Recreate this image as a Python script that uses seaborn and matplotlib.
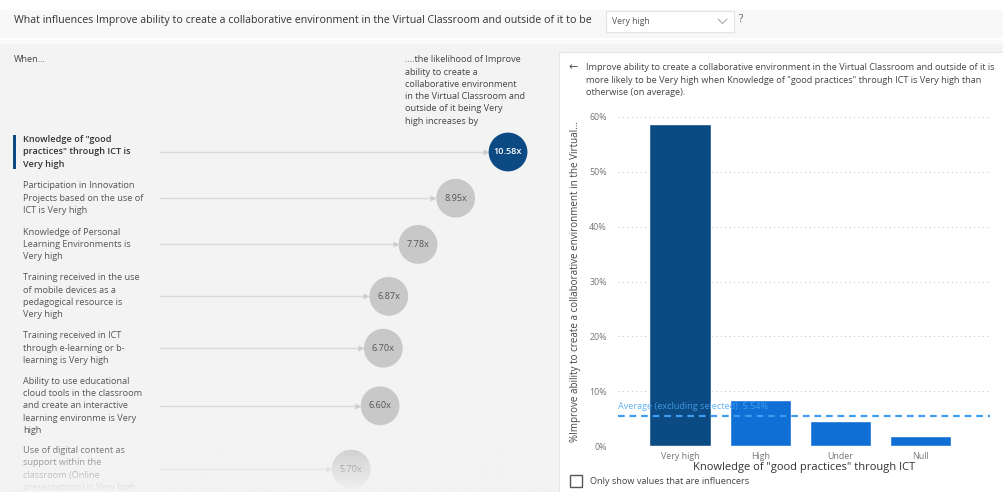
import numpy as np
import pandas as pd
import matplotlib
matplotlib.use("Agg")
import matplotlib.pyplot as plt
from matplotlib.patches import Rectangle
import seaborn as sns

# ---------------- data ----------------
title_text = ("What influences Improve ability to create a collaborative environment "
              "in the Virtual Classroom and outside of it to be")
target_value = "Very high"
influencer_labels = [
    'Knowledge of "good\npractices" through ICT is\nVery high',
    'Participation in Innovation\nProjects based on the use of\nICT is Very high',
    'Knowledge of Personal\nLearning Environments is\nVery high',
    'Training received in the use\nof mobile devices as a\npedagogical resource is\nVery high',
    'Training received in ICT\nthrough e-learning or b-\nlearning is Very high',
    'Ability to use educational\ncloud tools in the classroom\nand create an interactive\nlearning environme is Very\nhigh',
    'Use of digital content as\nsupport within the\nclassroom (Online\npresentations) is Very high',
]
likelihood = [10.58, 8.95, 7.78, 6.87, 6.70, 6.60, 5.70]
selected_index = 0

bar_categories = ["Very high", "High", "Under", "Null"]
bar_values = [0.587, 0.083, 0.046, 0.018]
average_excluding = 0.0554
ytick_values = [0.0, 0.1, 0.2, 0.3, 0.4, 0.5, 0.6]

detail_text = ('Improve ability to create a collaborative environment in the Virtual Classroom and outside of it is\n'
               'more likely to be Very high when Knowledge of "good practices" through ICT is Very high than\n'
               'otherwise (on average).')
right_header = ("....the likelihood of Improve\nability to create a\ncollaborative environment\n"
                "in the Virtual Classroom and\noutside of it being Very\nhigh increases by")
y_label = "%Improve ability to create a collaborative environment in the Virtual..."
x_label = 'Knowledge of "good practices" through ICT'

# ---------------- style ----------------
sns.set_theme(style="white")
FONT = ["Open Sans", "DejaVu Sans"]
plt.rcParams["font.family"] = FONT

W, H = 1004, 492
NAVY = "#0b4a82"
BLUE = "#0f6fd5"
GRAY_C = "#c8c8c8"
PANEL = "#f3f3f3"
TXT = "#444444"
FS = 6.55
LS = 1.46

fig = plt.figure(figsize=(W / 100, H / 100), dpi=100)
fig.patch.set_facecolor("white")

# background / overlay axes in pixel coordinates
bg = fig.add_axes([0, 0, 1, 1], zorder=0)
bg.set_xlim(0, W)
bg.set_ylim(H, 0)
bg.axis("off")

# header band
bg.add_patch(Rectangle((0, 10), W, 28, facecolor="#f8f8f8", edgecolor="none"))
bg.text(14, 20.5, title_text, fontsize=7.7, color="#333333", va="center", ha="left")
bg.add_patch(Rectangle((606, 11), 128, 21, facecolor="white", edgecolor="#e3e3e3", lw=0.8))
bg.text(612, 21.5, target_value, fontsize=6.2, color="#555555", va="center")
bg.plot([718, 722.5, 727], [19, 23.5, 19], color="#aaaaaa", lw=0.8)
bg.text(739, 19.5, "?", fontsize=7, color="#555555", va="center")

# left panel
bg.add_patch(Rectangle((0, 40), 1004, H - 40, facecolor=PANEL, edgecolor="none"))
bg.add_patch(Rectangle((0, 40), 1004, 4, facecolor="#f9f9f9", edgecolor="none"))
bg.text(14, 60, "When...", fontsize=FS, color=TXT, va="center")
bg.text(405, 55.5, right_header, fontsize=FS, color=TXT, va="top", ha="left", linespacing=LS)

# right card
bg.add_patch(Rectangle((559, 52), W - 559, H - 52, facecolor="white", edgecolor="#e6e6e6", lw=0.8))
bg.text(569, 68, "\u2190", fontsize=8, color="#555555", va="center")
bg.text(586, 63.5, detail_text, fontsize=FS, color=TXT, va="top", ha="left", linespacing=LS)

# row layout for influencers
n_lines = [lab.count("\n") + 1 for lab in influencer_labels]
rows = [152.0]
for i in range(1, len(n_lines)):
    rows.append(rows[-1] + 12 + 5.7 * (n_lines[i - 1] + n_lines[i]))

for i, (lab, yc) in enumerate(zip(influencer_labels, rows)):
    weight = "semibold" if i == selected_index else "normal"
    col = "#333333" if i == selected_index else "#555555"
    bg.text(23, yc, lab, fontsize=FS, color=col, va="center", ha="left",
            linespacing=LS, fontweight=weight)
bg.add_patch(Rectangle((13, rows[selected_index] - 17), 3.5, 34, facecolor=NAVY, edgecolor="none"))

# bubble axes: x in likelihood units, y in pixels
px0, px_per = 168.0, 32.14
bub = fig.add_axes([0, 0, 560 / W, 1], zorder=2)
bub.set_facecolor("none")
bub.set_xlim(-px0 / px_per, (560 - px0) / px_per)
bub.set_ylim(H, 0)
bub.axis("off")

r_units = 19.5 / px_per
start_val = (160 - px0) / px_per
for v, yc in zip(likelihood, rows):
    end = v - r_units - 3 / px_per
    bub.plot([start_val, end], [yc, yc], color="#d9d9d9", lw=1.0, zorder=1)
    bub.plot([end], [yc], marker=">", ms=4, color="#cccccc", mec="none", zorder=1)

bdf = pd.DataFrame({"likelihood": likelihood, "row": rows,
                    "sel": ["sel" if i == selected_index else "other" for i in range(len(likelihood))]})
sns.scatterplot(data=bdf, x="likelihood", y="row", hue="sel",
                palette={"sel": NAVY, "other": GRAY_C}, s=780, edgecolor="none",
                legend=False, ax=bub, zorder=3)
for i, (v, yc) in enumerate(zip(likelihood, rows)):
    bub.text(v, yc, f"{v:.2f}x", fontsize=FS, ha="center", va="center", zorder=4,
             color="white" if i == selected_index else "#555555",
             fontweight="semibold" if i == selected_index else "normal")
bub.set_xlabel("")
bub.set_ylabel("")

# fade at bottom of left panel
fade = fig.add_axes([0, 0, 559 / W, 52 / H], zorder=5)
grad = np.zeros((64, 2, 4))
rgb = np.array([0xf3, 0xf3, 0xf3]) / 255
grad[..., :3] = rgb
grad[..., 3] = np.linspace(0, 0.97, 64)[:, None] ** 0.9
fade.imshow(grad, aspect="auto", extent=[0, 1, 0, 1], origin="upper")
fade.axis("off")

# bar chart
bar = fig.add_axes([618 / W, (H - 446) / H, 372 / W, 329 / H], zorder=3)
bar.set_facecolor("none")
bdf2 = pd.DataFrame({"cat": bar_categories, "val": bar_values})
sns.barplot(data=bdf2, x="cat", y="val", hue="cat",
            palette=[NAVY] + [BLUE] * (len(bar_categories) - 1),
            width=0.76, legend=False, ax=bar, zorder=2, saturation=1)
bar.set_xlim(-0.772, 3.86)
bar.set_ylim(0, 0.6)
bar.set_yticks(ytick_values)
bar.set_yticklabels([f"{int(round(t * 100))}%" for t in ytick_values])
for t in ytick_values:
    bar.axhline(t, color="#c8c8c8", lw=0.8, ls=(0, (1, 3)), zorder=0)
bar.axhline(average_excluding, color="#3d9cf0", lw=1.6, ls=(0, (3, 2.2)), zorder=3)
bar.text(-0.77, average_excluding + 0.017, f"Average (excluding selected): {average_excluding * 100:.2f}%",
         fontsize=6.6, color="#4aa6f2", alpha=0.85, va="center", ha="left", zorder=4)
for s in bar.spines.values():
    s.set_visible(False)
bar.tick_params(axis="both", length=0, labelsize=6.4, labelcolor="#777777", pad=4)
bar.tick_params(axis="y", pad=8)
bar.set_xlabel(x_label, fontsize=8.0, color="#333333", labelpad=1)
bar.set_ylabel(y_label, fontsize=7.1, color="#444444", labelpad=6)
bar.grid(False)

# checkbox
bg.add_patch(Rectangle((570, 475), 12, 12, facecolor="white", edgecolor="#555555", lw=1.0, zorder=6))
bg.text(590, 481, "Only show values that are influencers", fontsize=FS, color=TXT, va="center")

fig.savefig("out.png", dpi=100, facecolor=fig.get_facecolor())
